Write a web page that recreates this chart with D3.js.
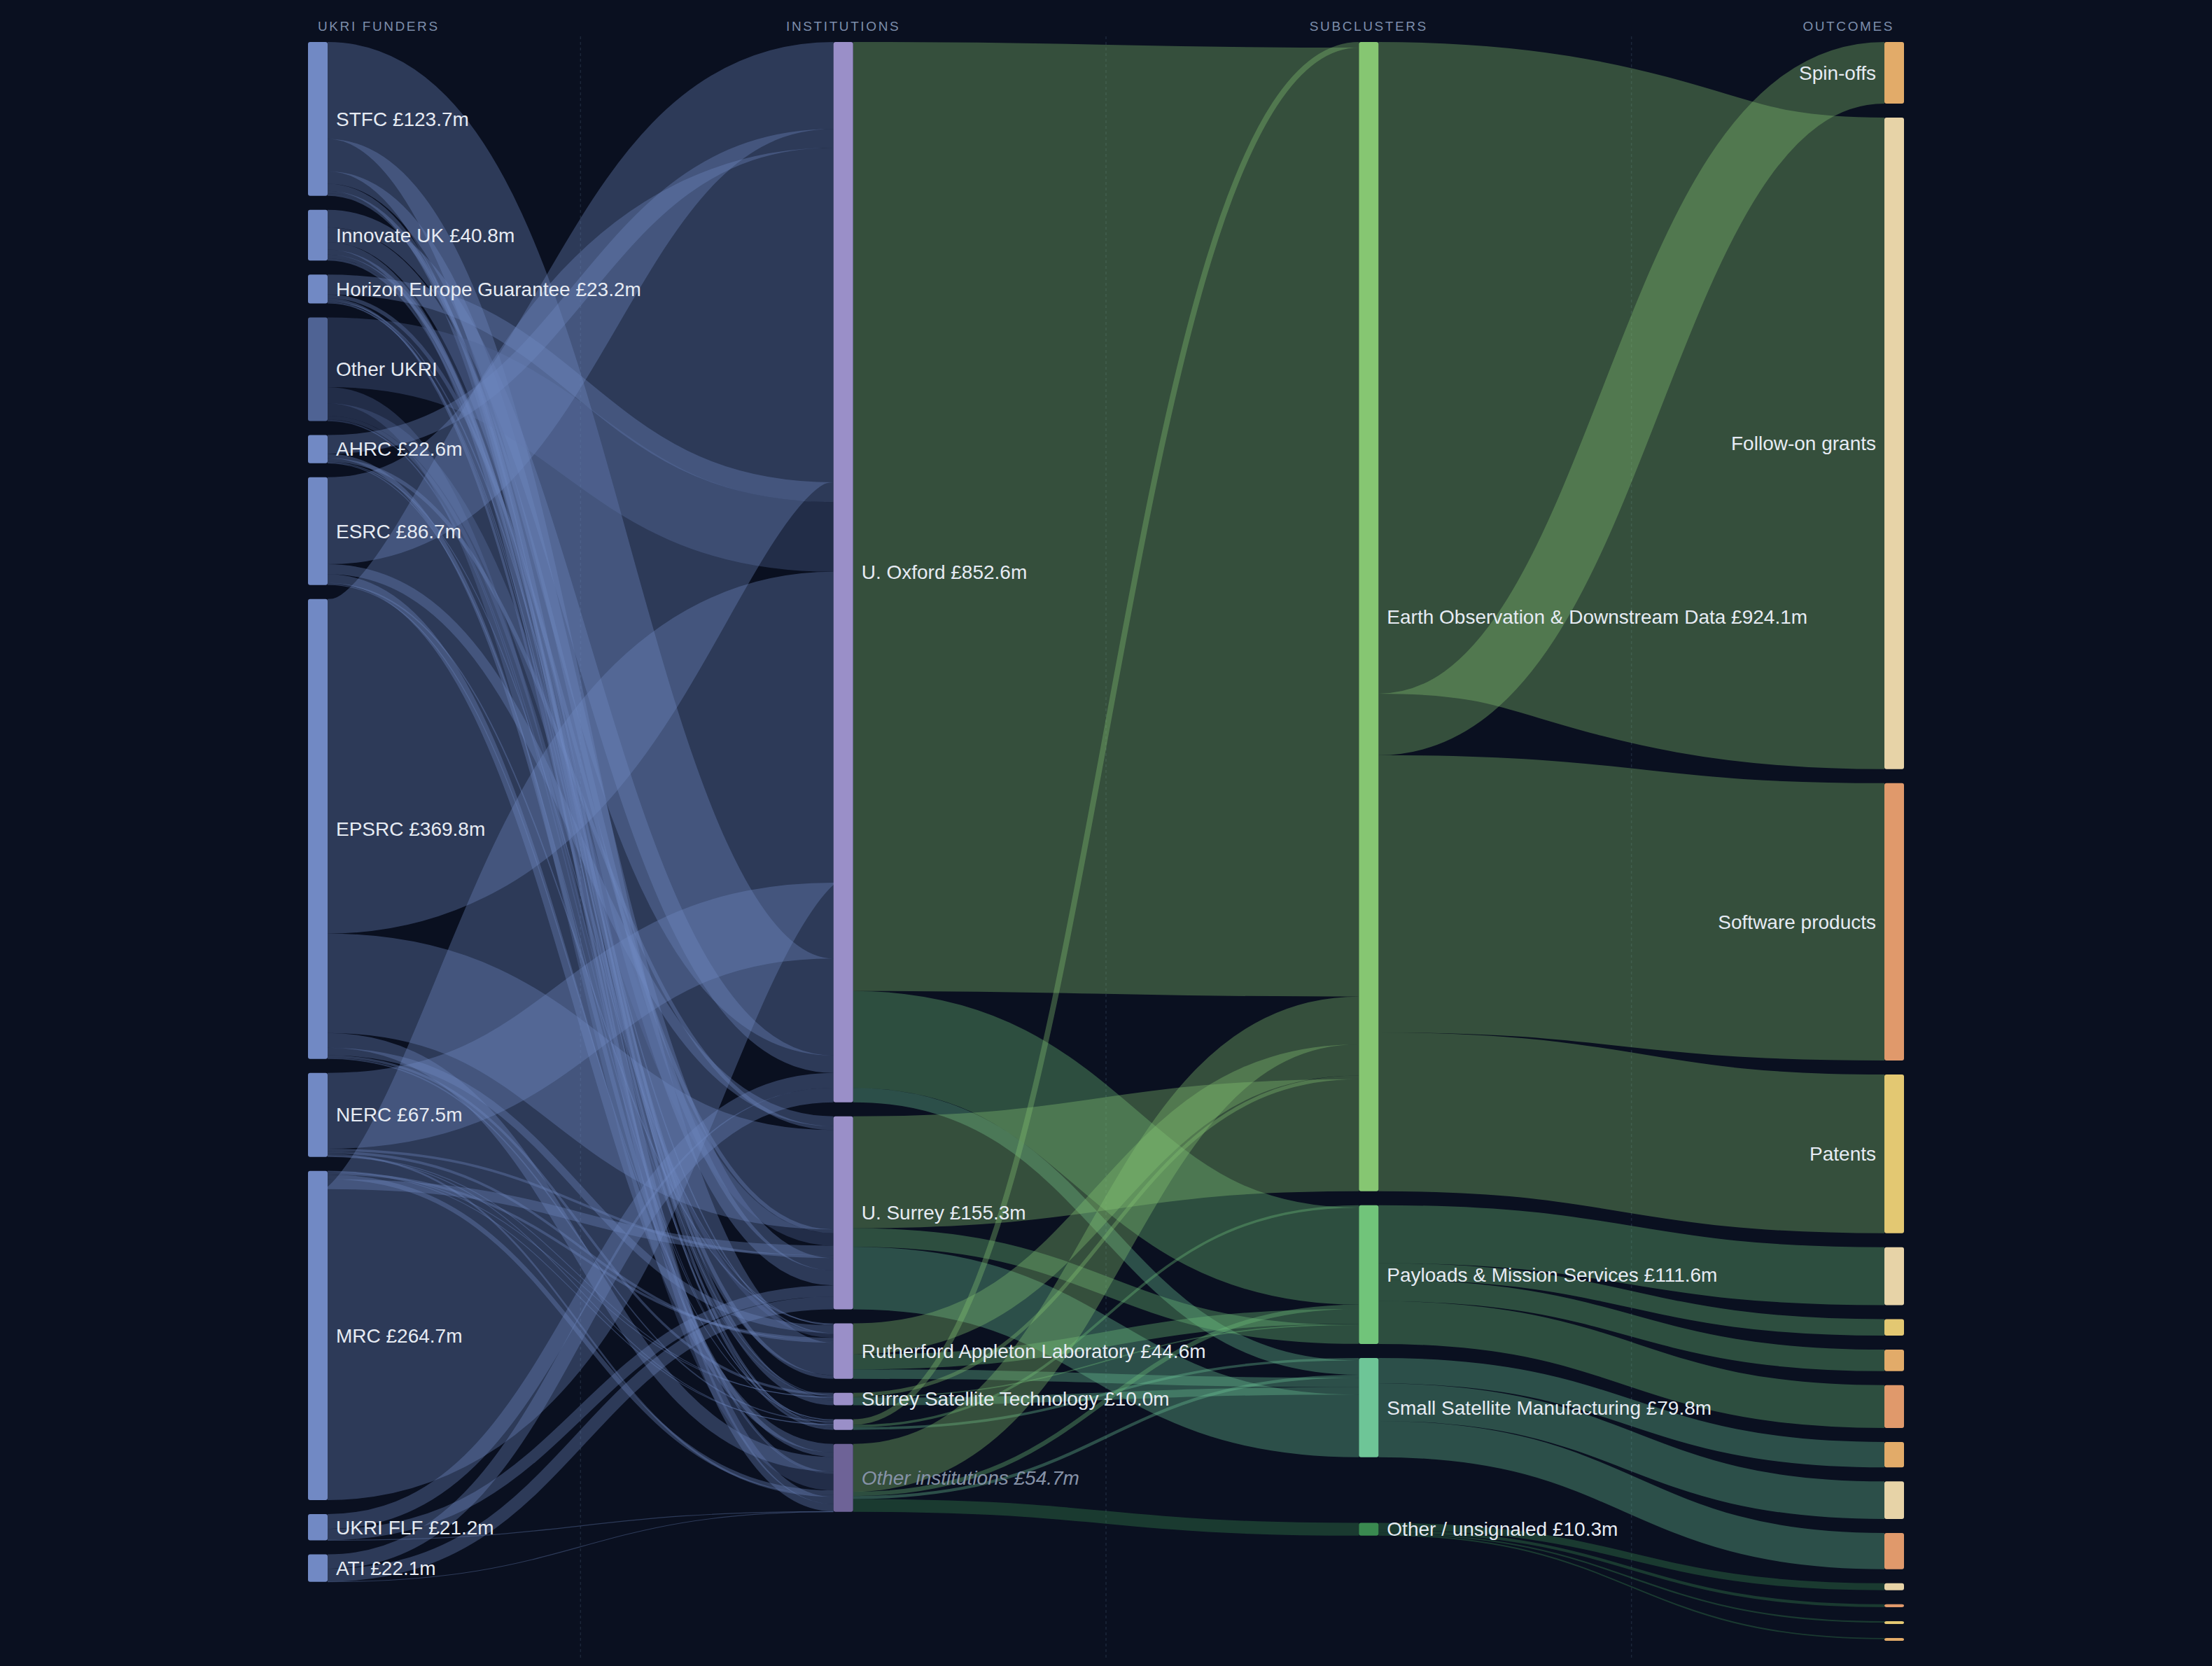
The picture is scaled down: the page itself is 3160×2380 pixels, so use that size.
<!DOCTYPE html>
<html>
<head>
<meta charset="utf-8">
<script src="https://cdn.jsdelivr.net/npm/d3@7"></script>
<style>
  html, body { margin: 0; padding: 0; background: #0a1020; }
  svg { display: block; font-family: "Liberation Sans", Arial, sans-serif; }
</style>
</head>
<body>
<svg id="chart" width="3160" height="2380"></svg>
<script>
// ---- data (£m) ----
var columnTitles = ["UKRI FUNDERS", "INSTITUTIONS", "SUBCLUSTERS", "OUTCOMES"];

var funders = ["STFC", "Innovate UK", "Horizon Europe Guarantee", "Other UKRI", "AHRC", "ESRC", "EPSRC", "NERC", "MRC", "UKRI FLF", "ATI"];
var funderTotals = [123.7, 40.8, 23.2, null, 22.6, 86.7, 369.8, 67.5, 264.7, 21.2, 22.1];
// funders whose smallest grants leave the bar first
var smallFirst = ["MRC"];
// funders in the order they arrive on an institution bar
var funderIntake = ["ESRC", "AHRC", "EPSRC", "Horizon Europe Guarantee", "Other UKRI", "MRC", "NERC", "STFC", "Innovate UK", "UKRI FLF", "ATI"];

var institutions = ["U. Oxford", "U. Surrey", "Rutherford Appleton Laboratory", "Surrey Satellite Technology", "", "Other institutions"];
var institutionTotals = [852.6, 155.3, 44.6, 10.0, null, 54.7];

// rows = funders, columns = institutions
var funderGrants = [
  [78,   10,   26,  2,   2,   5.7],
  [14,   12,   3,   4,   1.8, 6],
  [16,   3,    1,   0.5, 0.7, 2],
  [56,   10,   3,   0.5, 0.8, 13.1],
  [15,   3,    0.6, 0,   0.5, 3.5],
  [70,   8,    1,   0,   0.7, 7],
  [269,  80,   6,   2,   1,   11.8],
  [61,   2,    2,   0.5, 0.5, 1.5],
  [250,  8,    2,   0.5, 0.5, 3.7],
  [12,   9,    0,   0,   0,   0.2],
  [11.6, 10.3, 0,   0,   0,   0.2]
];

var subclusters = ["Earth Observation & Downstream Data", "Payloads & Mission Services", "Small Satellite Manufacturing", "Other / unsignaled"];
var subclusterTotals = [924.1, 111.6, 79.8, 10.3];

// rows = institutions, columns = subclusters
var institutionSpend = [
  [763.1, 78,  11.5, 0],
  [90,    15,  50.3, 0],
  [25,    12,  7.6,  0],
  [3,     1,   6,    0],
  [4.5,   2,   2,    0],
  [38.5,  3.5, 2.4,  10.3]
];
// institutions in the order they arrive on a subcluster bar
var intakeOrder = [4, 0, 5, 2, 3, 1];

var outcomeTypes = ["Spin-offs", "Follow-on grants", "Software products", "Patents"];
// outcome column top to bottom: [subcluster, outcome type, value]
var outcomeColumn = [
  [0, 0, 49.5], [0, 1, 524], [0, 2, 223], [0, 3, 127.6],
  [1, 1, 46.6], [1, 3, 13.3], [1, 0, 17.3], [1, 2, 34.4],
  [2, 0, 20.5], [2, 1, 30.2], [2, 2, 29.1],
  [3, 1, 5.7], [3, 2, 2.3], [3, 3, 1.2], [3, 0, 1.1]
];
// order the Earth Observation flows leave their bar
var eoExitOrder = [1, 0, 2, 3];

// ---- colours ----
var funderColor = "#7189c4", funderMuted = "#4f6394";
var instColor = "#9a8fc8", instMuted = "#6e6397";
var subColors = ["#86c672", "#71c47a", "#6ec597", "#3a8a50"];
var outcomeColors = ["#e2ab69", "#e7d3a7", "#e0996b", "#e3c872"];

var W = 3160, H = 2380;
var TOP = 60, BOTTOM = 2340, NODE_W = 28, PAD = 20, MIN_H = 4;
var money = function(v) { return "£" + d3.format(".1f")(v) + "m"; };

var svg = d3.select("#chart");
var nodes = [], links = [];
var columns = [[], [], [], []];

function addNode(col, name, label, color, italic) {
  var n = {col: col, name: name, label: label, color: color, italic: !!italic,
           sourceLinks: [], targetLinks: [], index: columns[col].length};
  nodes.push(n);
  columns[col].push(n);
  return n;
}
function addLink(s, t, v, color, stage) {
  var l = {source: s, target: t, value: v, color: color, stage: stage};
  s.sourceLinks.push(l);
  t.targetLinks.push(l);
  links.push(l);
}

var fNodes = funders.map(function(name, i) {
  return addNode(0, name, funderTotals[i] == null ? name : name + " " + money(funderTotals[i]),
                 i === 3 ? funderMuted : funderColor);
});
var iNodes = institutions.map(function(name, i) {
  return addNode(1, name, name === "" ? "" : name + " " + money(institutionTotals[i]),
                 i === 5 ? instMuted : instColor, i === 5);
});
var sNodes = subclusters.map(function(name, i) {
  return addNode(2, name, name + " " + money(subclusterTotals[i]), subColors[i]);
});
var oNodes = outcomeColumn.map(function(d) {
  return addNode(3, outcomeTypes[d[1]], d[0] === 0 ? outcomeTypes[d[1]] : "", outcomeColors[d[1]]);
});

funderGrants.forEach(function(row, i) {
  row.forEach(function(v, j) { if (v > 0) addLink(fNodes[i], iNodes[j], v, fNodes[i].color, 0); });
});
institutionSpend.forEach(function(row, i) {
  row.forEach(function(v, j) { if (v > 0) addLink(iNodes[i], sNodes[j], v, subColors[j], 1); });
});
subclusters.forEach(function(name, s) {
  var mine = [];
  outcomeColumn.forEach(function(d, k) { if (d[0] === s) mine.push(k); });
  if (s === 0) mine.sort(function(a, b) {
    return eoExitOrder.indexOf(outcomeColumn[a][1]) - eoExitOrder.indexOf(outcomeColumn[b][1]);
  });
  mine.forEach(function(k) { addLink(sNodes[s], oNodes[k], outcomeColumn[k][2], subColors[s], 2); });
});

// ---- layout ----
var colX = d3.scalePoint().domain([0, 1, 2, 3]).range([440, 2692]);
nodes.forEach(function(n) {
  n.value = Math.max(d3.sum(n.sourceLinks, function(l) { return l.value; }),
                     d3.sum(n.targetLinks, function(l) { return l.value; }));
  n.x0 = colX(n.col);
  n.x1 = n.x0 + NODE_W;
});
var ky = d3.min(columns, function(c) {
  return (BOTTOM - TOP - (c.length - 1) * PAD) / d3.sum(c, function(n) { return n.value; });
});
links.forEach(function(l) { l.width = l.value * ky; });
columns.forEach(function(c) {
  var y = TOP;
  c.forEach(function(n) {
    n.y0 = y;
    n.y1 = y + Math.max(MIN_H, n.value * ky);
    y = n.y1 + PAD;
  });
});

function stackLinks() {
  nodes.forEach(function(n) {
    var out = n.sourceLinks.slice();
    if (n.col === 0) {
      var dir = smallFirst.indexOf(n.name) >= 0 ? 1 : -1;
      out.sort(function(a, b) { return dir * (a.value - b.value); });
    }
    var y = n.y0;
    out.forEach(function(l) { l.sy = y + l.width / 2; y += l.width; });

    var inn = n.targetLinks.slice();
    if (n.col === 1) inn.sort(function(a, b) {
      return funderIntake.indexOf(a.source.name) - funderIntake.indexOf(b.source.name);
    });
    if (n.col === 2) inn.sort(function(a, b) {
      return intakeOrder.indexOf(a.source.index) - intakeOrder.indexOf(b.source.index);
    });
    y = n.y0;
    inn.forEach(function(l) { l.ty = y + l.width / 2; y += l.width; });
  });
}

// let a node slide down towards its flows when there is room below it
function centre(ls, key) {
  var tot = d3.sum(ls, function(l) { return l.value; });
  return tot ? d3.sum(ls, function(l) { return l[key] * l.value; }) / tot : null;
}
function relax(col) {
  var c = columns[col];
  for (var k = c.length - 1; k >= 0; k--) {
    var n = c[k];
    var inY = centre(n.targetLinks, "sy"), outY = centre(n.sourceLinks, "ty");
    var want = outY == null ? inY : 0.75 * inY + 0.25 * outY;
    var h = n.y1 - n.y0;
    var limit = k === c.length - 1 ? BOTTOM : c[k + 1].y0 - PAD;
    var y0 = Math.min(want - h / 2, limit - h);
    if (y0 > n.y0) { n.y0 = y0; n.y1 = y0 + h; }
  }
}
stackLinks();
relax(1);
stackLinks();
relax(2);
stackLinks();

// ---- draw ----
svg.append("rect").attr("width", W).attr("height", H).attr("fill", "#0a1020");

// dashed guides between columns
svg.append("g").selectAll("line").data([0, 1, 2]).enter()
  .append("line")
  .attr("x1", function(c) { return (colX(c) + NODE_W + colX(c + 1)) / 2; })
  .attr("x2", function(c) { return (colX(c) + NODE_W + colX(c + 1)) / 2; })
  .attr("y1", 52)
  .attr("y2", 2370)
  .attr("stroke", "#1c273a")
  .attr("stroke-width", 1.5)
  .attr("stroke-dasharray", "4,4");

var linkPath = d3.linkHorizontal()
  .source(function(d) { return [d.source.x1, d.sy]; })
  .target(function(d) { return [d.target.x0, d.ty]; });

svg.append("g").attr("fill", "none").selectAll("path").data(links).enter()
  .append("path")
  .attr("d", linkPath)
  .attr("stroke", function(d) { return d.color; })
  .attr("stroke-opacity", 0.35)
  .attr("stroke-width", function(d) { return Math.max(1.2, d.width); });

svg.append("g").selectAll("rect").data(nodes).enter()
  .append("rect")
  .attr("x", function(d) { return d.x0; })
  .attr("y", function(d) { return d.y0; })
  .attr("width", NODE_W)
  .attr("height", function(d) { return d.y1 - d.y0; })
  .attr("rx", 3)
  .attr("fill", function(d) { return d.color; });

svg.append("g").selectAll("text").data(nodes.filter(function(n) { return n.label; })).enter()
  .append("text")
  .attr("x", function(d) { return d.col === 3 ? d.x0 - 12 : d.x1 + 12; })
  .attr("y", function(d) { return (d.y0 + d.y1) / 2; })
  .attr("dy", "0.35em")
  .attr("text-anchor", function(d) { return d.col === 3 ? "end" : "start"; })
  .attr("font-size", 28)
  .attr("font-style", function(d) { return d.italic ? "italic" : "normal"; })
  .attr("fill", function(d) { return d.italic ? "#8692a7" : "#e6ebf3"; })
  .text(function(d) { return d.label; });

svg.append("g").selectAll("text").data(columnTitles).enter()
  .append("text")
  .attr("x", function(d, i) { return colX(i) + NODE_W / 2; })
  .attr("y", 44)
  .attr("text-anchor", function(d, i) { return i === 0 ? "start" : (i === 3 ? "end" : "middle"); })
  .attr("font-size", 19)
  .attr("letter-spacing", "2.6px")
  .attr("fill", "#7d8eab")
  .text(function(d) { return d; });
</script>
</body>
</html>
